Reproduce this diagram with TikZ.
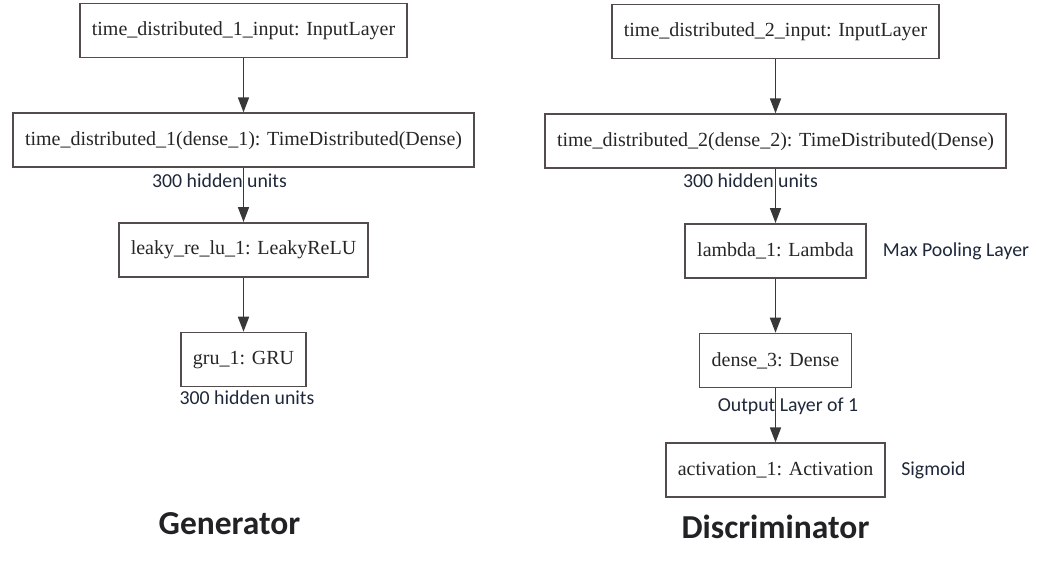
\documentclass[tikz,border=0pt]{standalone}
\usepackage{fontspec}
\setmainfont{Liberation Serif}
\newfontfamily\notefont{Carlito}
\usepackage{xcolor}
\usetikzlibrary{arrows.meta}
\usetikzlibrary{positioning, math}
\definecolor{boxgray}{RGB}{84,76,76}
\definecolor{notecol}{RGB}{30,40,58}
\definecolor{titlecol}{RGB}{34,34,38}

\begin{document}
\begin{tikzpicture}[x=1pt,y=-1pt,
layer/.style={draw=boxgray, line width=1.7pt, minimum height=54pt, inner xsep=12pt, font=\fontsize{20}{24}\selectfont, text=black!85},
flow/.style={-{Triangle[length=15pt,width=11pt]}, line width=1.7pt, color=black!78},
note/.style={font=\notefont\fontsize{19.8}{23}\selectfont, text=notecol, inner sep=0pt},
title/.style={font=\notefont\bfseries\fontsize{33.5}{40}\selectfont, text=titlecol}]
\tikzmath{
\gx=243.5;
\dx=775.5;
\gap=54;
}
\useasboundingbox (0,0) rectangle (1037,569);

% generator
\node[layer] (gin) at (\gx,30.5) {time\_distributed\_1\_input: InputLayer};
\node[layer, below=\gap pt of gin] (gtd) {time\_distributed\_1(dense\_1): TimeDistributed(Dense)};
\node[layer, below=\gap pt of gtd] (glr) {leaky\_re\_lu\_1: LeakyReLU};
\node[layer, below=\gap pt of glr] (ggru) {gru\_1: GRU};

\node[note] (gn1) at (219.5,181) {300 hidden units};
\node[note] (gn2) at (247,398) {300 hidden units};
\node[title] (gtitle) at (229.5,524) {Generator};

% discriminator
\node[layer] (din) at (\dx,31.5) {time\_distributed\_2\_input: InputLayer};
\node[layer, below=\gap pt of din] (dtd) {time\_distributed\_2(dense\_2): TimeDistributed(Dense)};
\node[layer, below=\gap pt of dtd] (dlam) {lambda\_1: Lambda};
\node[layer, below=\gap pt of dlam] (dden) {dense\_3: Dense};
\node[layer, below=\gap pt of dden] (dact) {activation\_1: Activation};

\node[note] (dn1) at (750.5,181) {300 hidden units};
\node[note, right=16pt of dlam] (dn2) {Max Pooling Layer};
\node[note] (dn3) at (788,406) {Output Layer of 1};
\node[note, right=15pt of dact] (dn4) {Sigmoid};
\node[title] (dtitle) at (\dx,527) {Discriminator};

\draw[flow] (gin) -- (gtd);
\draw[flow] (gtd) -- (glr);
\draw[flow] (glr) -- (ggru);

\draw[flow] (din) -- (dtd);
\draw[flow] (dtd) -- (dlam);
\draw[flow] (dlam) -- (dden);
\draw[flow] (dden) -- (dact);

\end{tikzpicture}
\end{document}
